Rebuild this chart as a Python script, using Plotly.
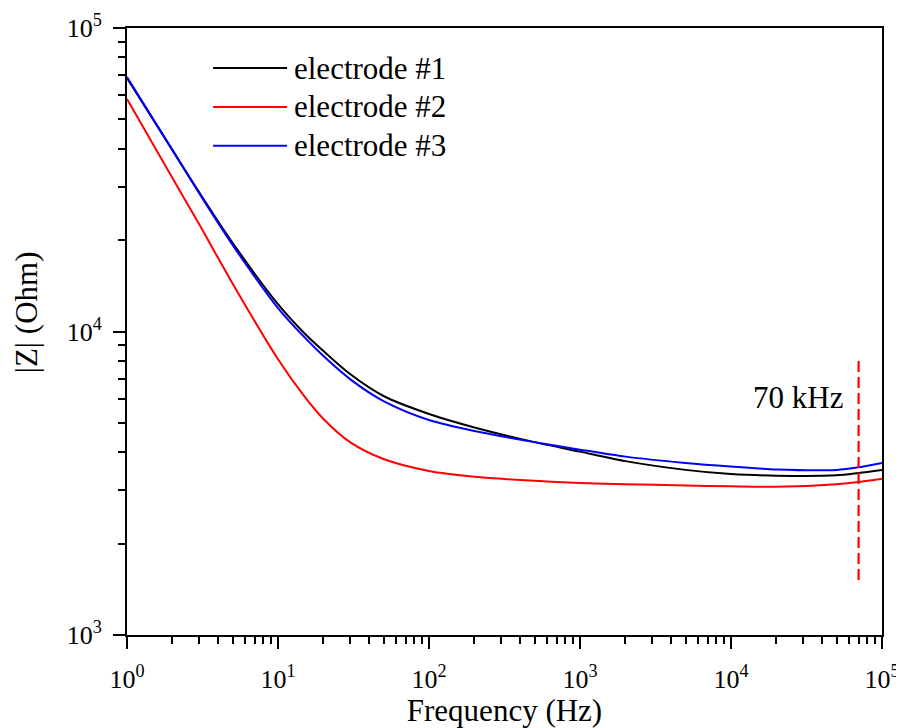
import plotly.graph_objects as go

# ---- data ----
freq = [1, 2, 3, 5, 10, 15, 20, 30, 50, 100, 200, 500, 1000, 2000, 5000,
        10000, 20000, 50000, 70000, 100000]
z_e1 = [68400, 39600, 28800, 19600, 12300, 9850, 8620, 7240, 6130, 5350, 4830,
        4320, 4020, 3740, 3500, 3390, 3350, 3360, 3420, 3500]
z_e2 = [58400, 32040, 22610, 14400, 8100, 6100, 5150, 4320, 3800, 3470, 3320,
        3220, 3170, 3140, 3110, 3090, 3080, 3140, 3190, 3270]
z_e3 = [69000, 39600, 28600, 19300, 11950, 9560, 8300, 6970, 5900, 5110, 4700,
        4320, 4080, 3870, 3690, 3590, 3510, 3500, 3570, 3690]
series_names = ["electrode #1", "electrode #2", "electrode #3"]
series_colors = ["#000000", "#ff0000", "#0000ff"]

marker_freq = [70000, 70000]
marker_z = [8000, 1500]
marker_label = "70 kHz"

x_tickvals = [1, 10, 100, 1000, 10000, 100000]
x_ticktext = ["10<sup>0</sup>", "10<sup>1</sup>", "10<sup>2</sup>",
              "10<sup>3</sup>", "10<sup>4</sup>", "10<sup>5</sup>"]
y_tickvals = [1000, 10000, 100000]
y_ticktext = ["10<sup>3</sup>", "10<sup>4</sup>", "10<sup>5</sup>"]

FONT = "Liberation Serif"

fig = go.Figure()
for name, ys, col in zip(series_names, [z_e1, z_e2, z_e3], series_colors):
    fig.add_trace(go.Scatter(x=freq, y=ys, mode="lines", name=name,
                             line=dict(color=col, width=2, shape="spline", smoothing=0.8),
                             showlegend=False))

fig.add_trace(go.Scatter(x=marker_freq, y=marker_z, mode="lines",
                         line=dict(color="#ff0000", width=2.2, dash="11px,5px"),
                         showlegend=False))

minor_x = [m * 10 ** e for e in range(0, 5) for m in range(2, 10)]
minor_y = [m * 10 ** e for e in range(3, 5) for m in range(2, 10)]

fig.update_xaxes(type="log", range=[0, 5], showline=True, linecolor="black",
                 linewidth=2, mirror=True, ticks="outside", ticklen=12,
                 tickwidth=2, tickcolor="black", tickvals=x_tickvals,
                 ticktext=x_ticktext, showgrid=False, zeroline=False,
                 automargin=False, ticklabelstandoff=8,
                 tickfont=dict(family=FONT, size=26, color="black"),
                 title=dict(text="Frequency (Hz)", standoff=5,
                            font=dict(family=FONT, size=31, color="black")),
                 minor=dict(tickvals=minor_x, ticks="outside", ticklen=7,
                            tickwidth=2, tickcolor="black", showgrid=False))
fig.update_yaxes(type="log", range=[3, 5], showline=True, linecolor="black",
                 linewidth=2, mirror=True, ticks="outside", ticklen=12,
                 tickwidth=2, tickcolor="black", tickvals=y_tickvals,
                 ticktext=y_ticktext, showgrid=False, zeroline=False,
                 automargin=False, ticklabelstandoff=6,
                 tickfont=dict(family=FONT, size=26, color="black"),
                 minor=dict(tickvals=minor_y, ticks="outside", ticklen=7,
                            tickwidth=2, tickcolor="black", showgrid=False))

# y-axis title placed as in the reference (slightly above centre)
fig.add_annotation(xref="paper", yref="paper", x=-0.133, y=0.531,
                   text="|Z| (Ohm)", textangle=-90, showarrow=False,
                   xanchor="center", yanchor="middle",
                   font=dict(family=FONT, size=31, color="black"))

# manual legend (long line samples as in reference)
legend_y = [0.934, 0.870, 0.806]
for name, col, ly in zip(series_names, series_colors, legend_y):
    fig.add_shape(type="line", xref="paper", yref="paper",
                  x0=0.114, x1=0.212, y0=ly, y1=ly,
                  line=dict(color=col, width=2))
    fig.add_annotation(xref="paper", yref="paper", x=0.218, y=ly,
                       text=name, showarrow=False, xanchor="left",
                       yanchor="middle",
                       font=dict(family=FONT, size=31, color="black"))

fig.add_annotation(x=4.757, y=3.781, xref="x", yref="y", text=marker_label,
                   showarrow=False, xanchor="right", yanchor="middle",
                   font=dict(family=FONT, size=31, color="black"))

# page body adds an 8px offset, so the figure is 896x720 with matching margins
fig.update_layout(width=896, height=720, plot_bgcolor="white",
                  paper_bgcolor="white",
                  margin=dict(l=119, r=22, t=20, b=93, pad=0))

fig.write_html("out.html")
